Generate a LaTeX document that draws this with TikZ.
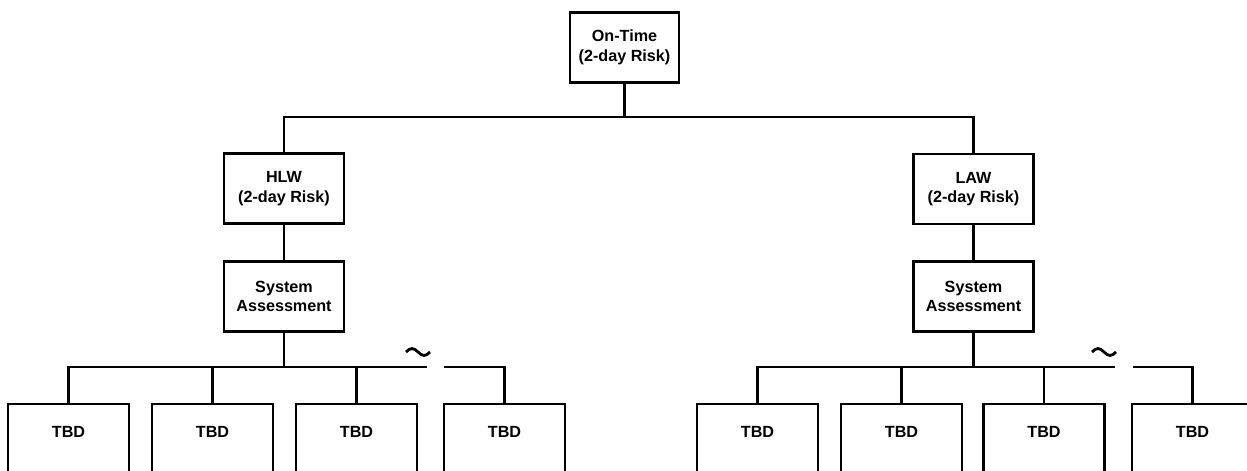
\documentclass[tikz,border=0pt]{standalone}
\usepackage{fontspec}
\setmainfont{Liberation Sans}
\begin{document}
\begin{tikzpicture}[x=0.025cm, y=-0.025cm,
    box/.style={draw, line width=1.5pt, align=center,
        font=\bfseries\fontsize{11.5}{14}\selectfont,
        minimum width=3cm, minimum height=1.75cm, inner sep=1pt},
    tbdbox/.style={draw, line width=1.5pt, anchor=north,
        font=\bfseries\fontsize{11.5}{13}\selectfont,
        minimum width=3.025cm, text height=0.825cm, text depth=1.5cm, inner ysep=0pt},
    wire/.style={line width=1.5pt}]
    % 画布范围（底部方框被裁掉）
    \useasboundingbox (0,0) rectangle (1247,470);
    \clip (0,0) rectangle (1247,470);
    \def\busy{367}   % 下层总线高度
    \def\boxy{403}   % 底部方框上沿

    % 顶层
    \node[box, minimum width=2.725cm] (ontime) at (624.5,47.5) {On-Time\\(2-day Risk)};
    \coordinate (topbus) at (624.5,117);

    % 第二层
    \node[box] (hlw) at (284,188.5) {HLW\\(2-day Risk)};
    \node[box] (law) at (973.5,189) {LAW\\(2-day Risk)};
    \node[box] (hsys) at (284,296.5) {System\\Assessment};
    \node[box] (lsys) at (973.5,296.5) {System\\Assessment};

    % 底部方框
    \foreach \n/\xx in {1/68.5, 2/212.5, 3/356.5, 4/504.5}
        \node[tbdbox] (ht\n) at (\xx,\boxy) {TBD};
    \foreach \n/\xx in {1/757.5, 2/901.5, 3/1044, 4/1192.5}
        \node[tbdbox] (lt\n) at (\xx,\boxy) {TBD};

    % 连线
    \draw[wire] (ontime) -- (topbus);
    \draw[wire] (hlw.north) |- (topbus) -| (law.north);
    \draw[wire] (hlw) -- (hsys);
    \draw[wire] (law) -- (lsys);

    \coordinate (hbus) at (284,\busy);
    \coordinate (hgapl) at (427,\busy);
    \coordinate (hgapr) at (444,\busy);
    \draw[wire] (hsys) -- (hbus);
    \draw[wire] (ht1.north) |- (hgapl);
    \draw[wire] (hgapr) -| (ht4.north);
    \foreach \n in {2,3}
        \draw[wire] (ht\n.north) -- (ht\n.north |- hbus);

    \coordinate (lbus) at (973.5,\busy);
    \coordinate (lgapl) at (1115,\busy);
    \coordinate (lgapr) at (1133,\busy);
    \draw[wire] (lsys) -- (lbus);
    \draw[wire] (lt1.north) |- (lgapl);
    \draw[wire] (lgapr) -| (lt4.north);
    \foreach \n in {2,3}
        \draw[wire] (lt\n.north) -- (lt\n.north |- lbus);

    % 断开符号
    \foreach \xx in {406, 1092}
        \draw[line width=2pt] (\xx,352) sin ++(6,-3.5) cos ++(6,3.5) sin ++(6,3.5) cos ++(6,-3.5);
\end{tikzpicture}
\end{document}
